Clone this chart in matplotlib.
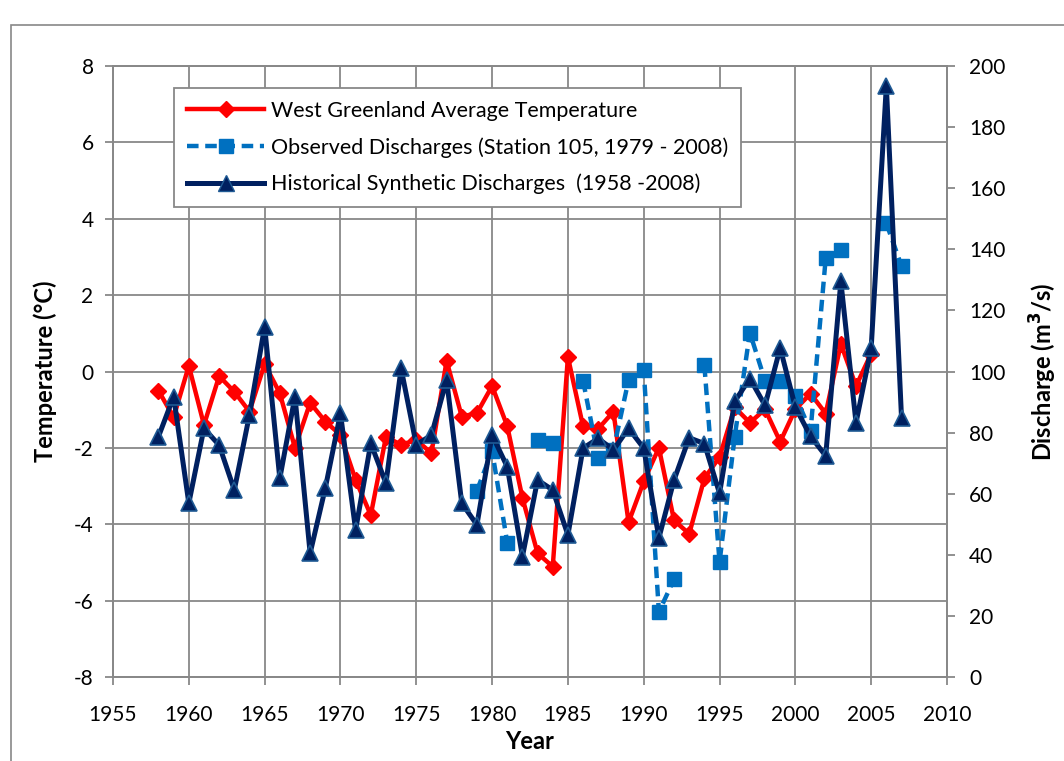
import matplotlib
matplotlib.use("Agg")
import matplotlib.pyplot as plt
import numpy as np
from matplotlib.lines import Line2D
from matplotlib.patches import Rectangle

plt.rcParams["font.family"] = ["Lato", "DejaVu Sans"]
plt.rcParams["axes.unicode_minus"] = False

# West Greenland average temperature (deg C), 1958-2005
temp_years = list(range(1958, 2006))
temp_vals = [
    -0.5, -1.2, 0.15, -1.4, -0.12, -0.53, -1.05, 0.2, -0.57, -2.0,
    -0.82, -1.31, -1.66, -2.84, -3.76, -1.71, -1.92, -1.79, -2.14, 0.28,
    -1.18, -1.09, -0.38, -1.43, -3.31, -4.76, -5.11, 0.38, -1.44, -1.5,
    -1.05, -3.95, -2.88, -2.0, -3.9, -4.25, -2.8, -2.24, -0.94, -1.34,
    -0.99, -1.84, -0.99, -0.58, -1.1, 0.72, -0.38, 0.47,
]

# Observed discharge at station 105 (m3/s), gaps where no record
obs_years = list(range(1979, 2008))
obs_vals = [
    61, 74, 44, np.nan, 77.6, 76.6, np.nan, 97, 71.7, 74.3,
    97.2, 100.5, 21.3, 32, np.nan, 102, 37.6, 78.7, 112.7, 97,
    97, 92, 80.5, 137, 139.7, np.nan, np.nan, 148.5, 134.5,
]

# Historical synthetic discharge (m3/s), 1958-2007
syn_years = list(range(1958, 2008))
syn_vals = [
    78.7, 91.8, 56.9, 81.4, 75.9, 61.2, 85.8, 114.7, 65.0, 91.8,
    40.5, 61.8, 86.3, 48.1, 76.5, 63.4, 101.0, 76.0, 79.2, 97.2,
    56.9, 49.8, 79.2, 68.8, 39.4, 64.5, 61.2, 46.5, 74.9, 78.1,
    74.3, 81.4, 74.9, 45.5, 64.5, 78.3, 76.4, 60.1, 90.2, 97.7,
    88.9, 107.7, 88.3, 78.8, 72.4, 129.5, 83.2, 107.7, 193.5, 84.9,
]

RED = "#FF0000"
OBS = "#0070C0"
SYN = "#002060"
SYN_EDGE = "#1F5A94"
GRID = "#888888"
DASH = (0, (2.6, 1.5))

fig = plt.figure(figsize=(10.64, 7.61), dpi=100)
# chart-area border
fig.add_artist(Rectangle((11 / 1064, -0.2), 1.2, 0.2 + 1 - 25 / 761,
                         transform=fig.transFigure, fill=False,
                         edgecolor=GRID, linewidth=1.2))

ax = fig.add_axes([113 / 1064, 84 / 761, 834 / 1064, 611 / 761])
ax2 = ax.twinx()

ax.set_xlim(1955, 2010)
ax.set_ylim(-8, 8)
ax2.set_ylim(0, 200)
ax.set_xticks(range(1955, 2011, 5))
ax.set_yticks(range(-8, 9, 2))
ax2.set_yticks(range(0, 201, 20))

ax.grid(True, color=GRID, linewidth=1.3)
ax.set_axisbelow(True)
for a in (ax, ax2):
    for s in a.spines.values():
        s.set_color(GRID)
        s.set_linewidth(1.3)
    a.tick_params(colors=GRID, labelcolor="black", labelsize=15,
                  length=6, width=1.3)
ax.tick_params(axis="x", pad=14)
ax.tick_params(axis="y", pad=8)
ax2.tick_params(axis="y", pad=10)

ax.plot(temp_years, temp_vals, color=RED, linewidth=3.2, marker="D",
        markersize=8.5, zorder=3)
ax2.plot(obs_years, obs_vals, color=OBS, linewidth=3.2, linestyle=DASH,
         marker="s", markersize=9.5, zorder=3)
ax2.plot(syn_years, syn_vals, color=SYN, linewidth=3.6, marker="^",
         markersize=12, markeredgecolor=SYN_EDGE, markeredgewidth=1.2, zorder=4)

ax.set_xlabel("Year", fontsize=17, fontweight="bold", labelpad=4)
ax.set_ylabel("Temperature (°C)", fontsize=17, fontweight="bold", labelpad=12)
ax2.set_ylabel("Discharge (m$^\\mathbf{3}$/s)", fontsize=17, fontweight="bold",
               labelpad=16)

handles = [
    Line2D([], [], color=RED, linewidth=3.2, marker="D", markersize=8.5),
    Line2D([], [], color=OBS, linewidth=3.2, linestyle=DASH,
           marker="s", markersize=9.5),
    Line2D([], [], color=SYN, linewidth=3.6, marker="^", markersize=11,
           markeredgecolor=SYN_EDGE),
]
labels = [
    "West Greenland Average Temperature",
    "Observed Discharges (Station 105, 1979 - 2008)",
    "Historical Synthetic Discharges  (1958 -2008)",
]
leg = ax2.legend(handles, labels, loc="upper left",
                 bbox_to_anchor=(174 / 1064, 1 - 88 / 761),
                 bbox_transform=fig.transFigure, fontsize=15.5,
                 handlelength=3.6, handletextpad=0.3, labelspacing=0.75,
                 borderpad=0.6, borderaxespad=0, fancybox=False, framealpha=1,
                 edgecolor=GRID, numpoints=1)
leg.get_frame().set_linewidth(1.3)

fig.savefig("out.png", dpi=100)
